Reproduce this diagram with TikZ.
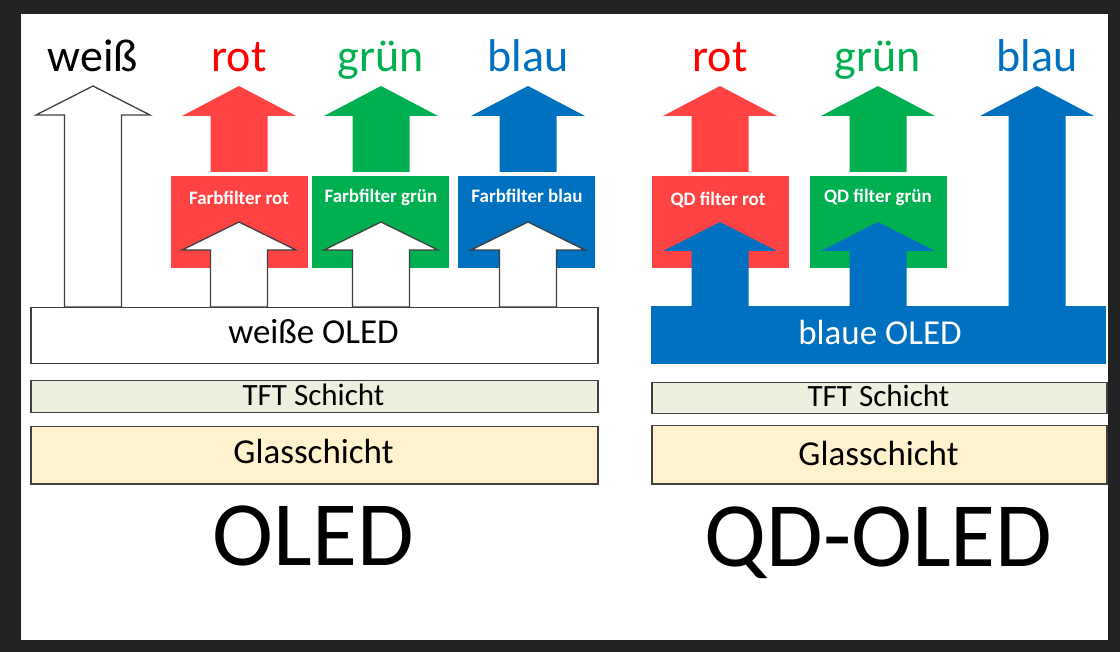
\documentclass[tikz,border=0pt]{standalone}
\usepackage{fontspec}
\setmainfont{Carlito}
\definecolor{frame}{HTML}{222222}
\definecolor{cred}{HTML}{FF4343}
\definecolor{lred}{HTML}{FF0000}
\definecolor{cgreen}{HTML}{00B050}
\definecolor{cblue}{HTML}{0070C0}
\definecolor{tftc}{HTML}{EBF1DE}
\definecolor{glassc}{HTML}{FFF2CC}
\definecolor{edge}{HTML}{404040}
\newcommand\myuparrow[5]{%
  \path[#5] (#1,#2) -- (#1+57,#3) -- (#1+28.5,#3) -- (#1+28.5,#4)
    -- (#1-28.5,#4) -- (#1-28.5,#3) -- (#1-57,#3) -- cycle;}
\tikzset{
  whitearr/.style={fill=white,draw=edge,line width=1.3pt,line join=miter},
  redarr/.style={fill=cred},
  greenarr/.style={fill=cgreen},
  bluearr/.style={fill=cblue},
  layerbox/.style={draw=edge,line width=1.5pt,inner sep=0pt,anchor=north west},
  filterbox/.style={inner sep=0pt,anchor=north west,minimum width=137pt,minimum height=92pt},
  biglabel/.style={anchor=base,font=\fontsize{46}{50}\selectfont},
  layertext/.style={anchor=base,font=\fontsize{35}{40}\selectfont},
  tfttext/.style={anchor=base,font=\fontsize{31}{36}\selectfont},
  filtertext/.style={anchor=base,text=white,font=\bfseries\fontsize{19}{22}\selectfont},
  titletext/.style={anchor=base,font=\fontsize{92}{100}\selectfont},
}
\begin{document}
\begin{tikzpicture}[x=1pt,y=-1pt]
\useasboundingbox (0,0) rectangle (1120,652);
\fill[frame] (0,0) rectangle (1120,652);
\fill[white] (21,14) rectangle (1108,640);

% ---------- OLED (left) ----------
% top labels
\node[biglabel] (lwhite) at (93,72) {weiß};
\node[biglabel,text=lred] (lred) at (239,72) {rot};
\node[biglabel,text=cgreen] (lgreen) at (381,72) {grün};
\node[biglabel,text=cblue] (lblue) at (528,72) {blau};
% outgoing arrows
\myuparrow{93}{86}{115}{307}{whitearr}
\myuparrow{239}{86}{116}{172}{redarr}
\myuparrow{381}{86}{116}{172}{greenarr}
\myuparrow{528}{86}{116}{172}{bluearr}
% filters
\node[filterbox,fill=cred] (ffr) at (171,176) {};
\node[filterbox,fill=cgreen] (ffg) at (312,176) {};
\node[filterbox,fill=cblue] (ffb) at (458,176) {};
\node[filtertext] (tffr) at (239,205) {Farbfilter rot};
\node[filtertext] (tffg) at (381,203) {Farbfilter grün};
\node[filtertext] (tffb) at (527,203) {Farbfilter blau};
\myuparrow{239}{222}{250}{307}{whitearr}
\myuparrow{381}{222}{250}{307}{whitearr}
\myuparrow{528}{222}{250}{307}{whitearr}
% layers
\node[layerbox,fill=white,minimum width=567pt,minimum height=56pt] (woled) at (30,307) {};
\node[layertext] (twoled) at (313.5,344) {weiße OLED};
\node[layerbox,fill=tftc,minimum width=567pt,minimum height=32pt] (tftl) at (30,380) {};
\node[tfttext] (ttftl) at (313.5,406) {TFT Schicht};
\node[layerbox,fill=glassc,minimum width=567pt,minimum height=57pt] (glassl) at (30,426) {};
\node[layertext] (tglassl) at (313.5,464) {Glasschicht};
\node[titletext] (toled) at (313.5,565) {OLED};

% ---------- QD-OLED (right) ----------
\node[biglabel,text=lred] (rred) at (720,72) {rot};
\node[biglabel,text=cgreen] (rgreen) at (878,72) {grün};
\node[biglabel,text=cblue] (rblue) at (1037,72) {blau};
\myuparrow{720}{86}{116}{172}{redarr}
\myuparrow{878}{86}{116}{172}{greenarr}
\myuparrow{1037}{86}{116}{307}{bluearr}
\node[filterbox,fill=cred] (qdr) at (652,176) {};
\node[filterbox,fill=cgreen] (qdg) at (810,176) {};
\node[filtertext] (tqdr) at (718,206) {QD filter rot};
\node[filtertext] (tqdg) at (878,203) {QD filter grün};
\myuparrow{720}{222}{251}{307}{bluearr}
\myuparrow{878}{222}{251}{307}{bluearr}
\node[inner sep=0pt,anchor=north west,fill=cblue,minimum width=455pt,minimum height=58pt] (boled) at (651,306) {};
\node[layertext,text=white] (tboled) at (880,345) {blaue OLED};
\node[layerbox,fill=tftc,minimum width=455pt,minimum height=31pt] (tftr) at (651,382) {};
\node[tfttext] (ttftr) at (878.5,407) {TFT Schicht};
\node[layerbox,fill=glassc,minimum width=455pt,minimum height=58pt] (glassr) at (651,425) {};
\node[layertext] (tglassr) at (878.5,465) {Glasschicht};
\node[titletext] (tqdoled) at (878.5,566) {QD-OLED};
\end{tikzpicture}
\end{document}
